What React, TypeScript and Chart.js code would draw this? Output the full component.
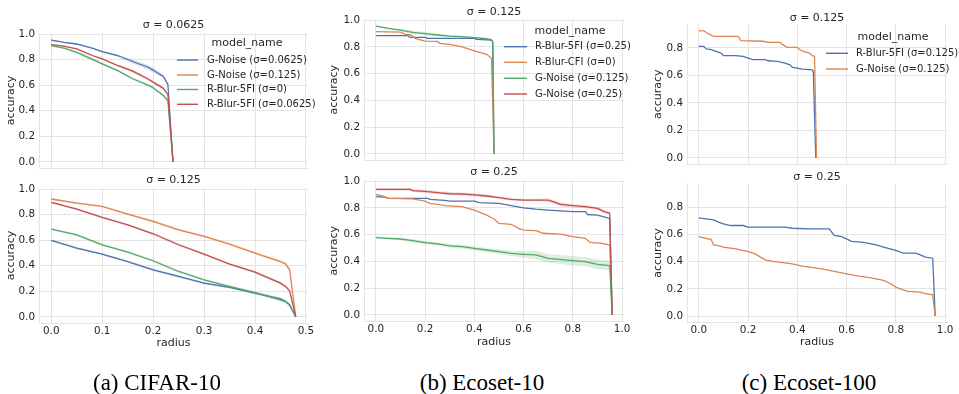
import React, { useEffect, useRef } from 'react';
import { Chart, registerables } from 'chart.js';
Chart.register(...registerables);

const FONT = '"DejaVu Sans", sans-serif';
const TEXT = '#262626';
const GRID = '#e4e4e4';
const BLUE = '#4c72b0';
const ORANGE = '#dd8452';
const GREEN = '#55a868';
const RED = '#c44e52';

// ---- tick labels ----
const yTicksFull = [0, 0.2, 0.4, 0.6, 0.8, 1.0];
const yTicksC = [0, 0.2, 0.4, 0.6, 0.8];
const xTicksA = [0, 0.1, 0.2, 0.3, 0.4, 0.5];
const xTicksBC = [0, 0.2, 0.4, 0.6, 0.8, 1.0];

// ---- texts ----
const legendA = ['G-Noise (σ=0.0625)', 'G-Noise (σ=0.125)', 'R-Blur-5FI (σ=0)', 'R-Blur-5FI (σ=0.0625)'];
const legendB = ['R-Blur-5FI (σ=0.25)', 'R-Blur-CFI (σ=0)', 'G-Noise (σ=0.125)', 'G-Noise (σ=0.25)'];
const legendC = ['R-Blur-5FI (σ=0.125)', 'G-Noise (σ=0.125)'];
const panelTitles = ['σ = 0.0625', 'σ = 0.125', 'σ = 0.125', 'σ = 0.25', 'σ = 0.125', 'σ = 0.25'];
const captions = ['(a) CIFAR-10', '(b) Ecoset-10', '(c) Ecoset-100'];

// ---- (a) CIFAR-10, σ = 0.0625 ----
const a1Radius = [0, 0.025, 0.05, 0.082, 0.1, 0.13, 0.16, 0.19, 0.2, 0.22, 0.229, 0.239];
const a1Blue = [0.953, 0.935, 0.922, 0.887, 0.862, 0.832, 0.785, 0.74, 0.718, 0.668, 0.606, 0];
const a1BlueBand = [0.006, 0.006, 0.006, 0.006, 0.008, 0.01, 0.016, 0.02, 0.018, 0.012, 0.008, 0];
const a1Green = [0.909, 0.89, 0.857, 0.8, 0.767, 0.715, 0.65, 0.6, 0.58, 0.52, 0.477, 0];
const a1GreenBand = [0.006, 0.008, 0.01, 0.012, 0.01, 0.008, 0.008, 0.01, 0.012, 0.012, 0.01, 0];
const a1Red = [0.917, 0.905, 0.883, 0.83, 0.806, 0.754, 0.71, 0.648, 0.624, 0.575, 0.526, 0];
const a1RedBand = [0.005, 0.006, 0.006, 0.008, 0.008, 0.01, 0.012, 0.012, 0.01, 0.01, 0.008, 0];

// ---- (a) CIFAR-10, σ = 0.125 ----
const a2Radius = [0, 0.05, 0.1, 0.15, 0.2, 0.25, 0.3, 0.35, 0.4, 0.45, 0.46, 0.468, 0.48];
const a2Blue = [0.598, 0.538, 0.49, 0.433, 0.368, 0.316, 0.264, 0.23, 0.185, 0.141, 0.12, 0.092, 0];
const a2Orange = [0.922, 0.89, 0.864, 0.804, 0.747, 0.681, 0.63, 0.569, 0.499, 0.433, 0.415, 0.368, 0];
const a2Green = [0.687, 0.642, 0.564, 0.507, 0.439, 0.355, 0.29, 0.238, 0.19, 0.133, 0.12, 0.096, 0];
const a2Red = [0.896, 0.843, 0.778, 0.72, 0.65, 0.564, 0.49, 0.413, 0.35, 0.264, 0.238, 0.204, 0];
const a2Band = [0.008, 0.008, 0.008, 0.008, 0.01, 0.01, 0.008, 0.008, 0.01, 0.012, 0.012, 0.01, 0];

// ---- (b) Ecoset-10, σ = 0.125 ----
const b1BlueX = [0, 0.13, 0.14, 0.2, 0.21, 0.4, 0.41, 0.47, 0.475, 0.48];
const b1BlueY = [0.883, 0.883, 0.87, 0.87, 0.863, 0.863, 0.855, 0.85, 0.83, 0];
const b1OrangeX = [0, 0.1, 0.12, 0.14, 0.16, 0.2, 0.25, 0.26, 0.3, 0.35, 0.4, 0.45, 0.47, 0.48];
const b1OrangeY = [0.913, 0.91, 0.893, 0.89, 0.863, 0.843, 0.84, 0.826, 0.818, 0.8, 0.77, 0.744, 0.714, 0];
const b1GreenX = [0, 0.05, 0.1, 0.15, 0.2, 0.25, 0.3, 0.35, 0.4, 0.45, 0.47, 0.475, 0.48];
const b1GreenY = [0.955, 0.938, 0.925, 0.908, 0.898, 0.888, 0.88, 0.876, 0.868, 0.86, 0.852, 0.84, 0];
const b1GreenBand = [0.005, 0.006, 0.008, 0.012, 0.012, 0.01, 0.008, 0.006, 0.006, 0.006, 0.006, 0.006, 0];

// ---- (b) Ecoset-10, σ = 0.25 ----
const b2BlueX = [0, 0.04, 0.05, 0.21, 0.22, 0.28, 0.3, 0.4, 0.42, 0.5, 0.55, 0.6, 0.65, 0.7, 0.8, 0.85, 0.86, 0.9, 0.95, 0.96];
const b2BlueY = [0.883, 0.88, 0.87, 0.87, 0.863, 0.855, 0.85, 0.85, 0.838, 0.833, 0.816, 0.8, 0.79, 0.783, 0.771, 0.771, 0.75, 0.746, 0.721, 0];
const b2OrangeX = [0, 0.03, 0.05, 0.15, 0.2, 0.22, 0.25, 0.28, 0.35, 0.4, 0.45, 0.48, 0.5, 0.55, 0.58, 0.6, 0.65, 0.68, 0.75, 0.8, 0.85, 0.87, 0.92, 0.95, 0.96];
const b2OrangeY = [0.9, 0.888, 0.87, 0.866, 0.85, 0.833, 0.826, 0.816, 0.808, 0.783, 0.746, 0.716, 0.684, 0.677, 0.647, 0.634, 0.63, 0.61, 0.604, 0.585, 0.572, 0.542, 0.535, 0.522, 0];
const b2GreenX = [0, 0.05, 0.1, 0.15, 0.2, 0.25, 0.3, 0.35, 0.4, 0.45, 0.5, 0.55, 0.6, 0.65, 0.7, 0.8, 0.85, 0.9, 0.95, 0.96];
const b2GreenY = [0.577, 0.572, 0.567, 0.555, 0.54, 0.53, 0.515, 0.51, 0.497, 0.485, 0.473, 0.46, 0.453, 0.448, 0.423, 0.405, 0.398, 0.378, 0.368, 0];
const b2GreenBand = [0.008, 0.008, 0.01, 0.012, 0.012, 0.012, 0.014, 0.015, 0.015, 0.015, 0.018, 0.02, 0.025, 0.03, 0.032, 0.035, 0.035, 0.036, 0.036, 0];
const b2RedX = [0, 0.14, 0.15, 0.2, 0.25, 0.3, 0.35, 0.4, 0.45, 0.5, 0.55, 0.6, 0.7, 0.72, 0.75, 0.8, 0.85, 0.9, 0.93, 0.95, 0.96];
const b2RedY = [0.938, 0.938, 0.928, 0.922, 0.913, 0.905, 0.903, 0.896, 0.888, 0.876, 0.863, 0.858, 0.858, 0.846, 0.826, 0.816, 0.808, 0.796, 0.77, 0.759, 0];
const b2RedBand = [0.01, 0.01, 0.01, 0.012, 0.012, 0.012, 0.012, 0.012, 0.012, 0.01, 0.01, 0.01, 0.012, 0.014, 0.014, 0.012, 0.012, 0.012, 0.012, 0.012, 0];

// ---- (c) Ecoset-100, σ = 0.125 ----
const c1BlueX = [0, 0.02, 0.03, 0.05, 0.07, 0.09, 0.1, 0.15, 0.18, 0.2, 0.22, 0.27, 0.28, 0.32, 0.35, 0.37, 0.38, 0.4, 0.42, 0.46, 0.465, 0.475];
const c1BlueY = [0.812, 0.812, 0.793, 0.788, 0.776, 0.763, 0.744, 0.744, 0.739, 0.727, 0.715, 0.715, 0.707, 0.702, 0.69, 0.678, 0.659, 0.654, 0.646, 0.641, 0.629, 0];
const c1OrangeX = [0, 0.02, 0.04, 0.06, 0.16, 0.17, 0.26, 0.28, 0.33, 0.34, 0.36, 0.4, 0.41, 0.43, 0.45, 0.46, 0.47, 0.478];
const c1OrangeY = [0.927, 0.925, 0.902, 0.885, 0.885, 0.854, 0.849, 0.841, 0.841, 0.824, 0.805, 0.805, 0.788, 0.771, 0.763, 0.744, 0.74, 0];

// ---- (c) Ecoset-100, σ = 0.25 ----
const c2BlueX = [0, 0.03, 0.06, 0.08, 0.1, 0.13, 0.18, 0.2, 0.35, 0.38, 0.45, 0.53, 0.55, 0.58, 0.6, 0.62, 0.66, 0.68, 0.72, 0.75, 0.8, 0.83, 0.88, 0.9, 0.92, 0.95, 0.96];
const c2BlueY = [0.721, 0.714, 0.707, 0.69, 0.677, 0.665, 0.665, 0.653, 0.653, 0.645, 0.64, 0.64, 0.592, 0.584, 0.567, 0.548, 0.543, 0.538, 0.523, 0.506, 0.482, 0.462, 0.462, 0.45, 0.433, 0.425, 0];
const c2OrangeX = [0, 0.05, 0.06, 0.08, 0.1, 0.15, 0.2, 0.23, 0.25, 0.27, 0.3, 0.35, 0.38, 0.42, 0.45, 0.5, 0.55, 0.6, 0.65, 0.7, 0.75, 0.78, 0.8, 0.83, 0.85, 0.9, 0.92, 0.95, 0.96];
const c2OrangeY = [0.584, 0.562, 0.523, 0.518, 0.506, 0.494, 0.474, 0.457, 0.433, 0.413, 0.401, 0.391, 0.384, 0.367, 0.359, 0.347, 0.328, 0.31, 0.293, 0.281, 0.262, 0.237, 0.213, 0.193, 0.181, 0.176, 0.164, 0.156, 0];

type Series = { x: number[]; y: number[]; color: string; band?: number[] };
type Legend = { titleX: number; titleY: number; lineX0: number; lineX1: number; textX: number; rows: number[]; labels: string[]; colors: string[] };
type Panel = {
  canvas: [number, number, number, number];
  plot: [number, number, number, number];
  xRange: [number, number];
  yRange: [number, number];
  xTicks: number[];
  yTicks: number[];
  showX: boolean;
  title: string;
  titleY: number;
  yTitleX: number;
  radiusY?: number;
  legend?: Legend;
  series: Series[];
};

const panels: Panel[] = [
  {
    canvas: [0, 0, 320, 172], plot: [39, 33, 308, 168], xRange: [-0.024, 0.504], yRange: [-0.048, 1.008],
    xTicks: xTicksA, yTicks: yTicksFull, showX: false, title: panelTitles[0], titleY: 25, yTitleX: 11,
    legend: { titleX: 247, titleY: 43, lineX0: 177, lineX1: 198, textX: 207, rows: [60, 75, 89.5, 104.3], labels: legendA, colors: [BLUE, ORANGE, GREEN, RED] },
    series: [
      { x: a1Radius, y: a1Blue, color: BLUE, band: a1BlueBand },
      { x: a1Radius, y: a1Green, color: GREEN, band: a1GreenBand },
      { x: a1Radius, y: a1Red, color: RED, band: a1RedBand },
    ],
  },
  {
    canvas: [0, 162, 320, 193], plot: [39, 188, 308, 323], xRange: [-0.024, 0.504], yRange: [-0.048, 1.008],
    xTicks: xTicksA, yTicks: yTicksFull, showX: true, title: panelTitles[1], titleY: 180, yTitleX: 11, radiusY: 343,
    series: [
      { x: a2Radius, y: a2Blue, color: BLUE, band: a2Band },
      { x: a2Radius, y: a2Orange, color: ORANGE, band: a2Band },
      { x: a2Radius, y: a2Green, color: GREEN, band: a2Band },
      { x: a2Radius, y: a2Red, color: RED, band: a2Band },
    ],
  },
  {
    canvas: [320, 0, 320, 172], plot: [364, 19.2, 624, 160.4], xRange: [-0.048, 1.008], yRange: [-0.048, 1.006],
    xTicks: xTicksBC, yTicks: yTicksFull, showX: false, title: panelTitles[2], titleY: 11.7, yTitleX: 334,
    legend: { titleX: 570, titleY: 30.7, lineX0: 504, lineX1: 527, textX: 535, rows: [46.7, 62.3, 78.3, 94], labels: legendB, colors: [BLUE, ORANGE, GREEN, RED] },
    series: [
      { x: b1BlueX, y: b1BlueY, color: BLUE },
      { x: b1OrangeX, y: b1OrangeY, color: ORANGE },
      { x: b1GreenX, y: b1GreenY, color: GREEN, band: b1GreenBand },
    ],
  },
  {
    canvas: [320, 162, 320, 193], plot: [364, 180.2, 624, 321.4], xRange: [-0.048, 1.008], yRange: [-0.048, 1.006],
    xTicks: xTicksBC, yTicks: yTicksFull, showX: true, title: panelTitles[3], titleY: 172.3, yTitleX: 334, radiusY: 342,
    series: [
      { x: b2BlueX, y: b2BlueY, color: BLUE },
      { x: b2OrangeX, y: b2OrangeY, color: ORANGE },
      { x: b2GreenX, y: b2GreenY, color: GREEN, band: b2GreenBand },
      { x: b2RedX, y: b2RedY, color: RED, band: b2RedBand },
    ],
  },
  {
    canvas: [640, 0, 319, 172], plot: [687, 24.2, 947, 164.3], xRange: [-0.048, 1.008], yRange: [-0.046, 0.973],
    xTicks: xTicksBC, yTicks: yTicksC, showX: false, title: panelTitles[4], titleY: 18.3, yTitleX: 658,
    legend: { titleX: 893, titleY: 36.7, lineX0: 826, lineX1: 848, textX: 856, rows: [53.3, 69], labels: legendC, colors: [BLUE, ORANGE] },
    series: [
      { x: c1BlueX, y: c1BlueY, color: BLUE },
      { x: c1OrangeX, y: c1OrangeY, color: ORANGE },
    ],
  },
  {
    canvas: [640, 162, 319, 193], plot: [687, 183.6, 947, 322.3], xRange: [-0.048, 1.008], yRange: [-0.046, 0.973],
    xTicks: xTicksBC, yTicks: yTicksC, showX: true, title: panelTitles[5], titleY: 176.7, yTitleX: 658, radiusY: 342,
    series: [
      { x: c2BlueX, y: c2BlueY, color: BLUE },
      { x: c2OrangeX, y: c2OrangeY, color: ORANGE },
    ],
  },
];

function hexA(hex: string, a: number) {
  const n = parseInt(hex.slice(1), 16);
  return `rgba(${(n >> 16) & 255},${(n >> 8) & 255},${n & 255},${a})`;
}

function PanelChart({ p }: { p: Panel }) {
  const ref = useRef<HTMLCanvasElement>(null);
  useEffect(() => {
    if (!ref.current) return;
    const [cl, ct, cw, ch] = p.canvas;
    const [x0, y0, x1, y1] = p.plot;
    const TICK = 10.4;
    const LAB = 11;
    const half = (LAB * 1.2) / 2;
    const padL = p.yTitleX - half - cl;
    const yW = x0 - cl - padL;
    const padT = y0 - ct;
    const padR = cl + cw - x1;
    let padB = 0;
    let xH = ct + ch - y1;
    if (p.showX && p.radiusY !== undefined) {
      const sb = p.radiusY + half;
      padB = ct + ch - sb;
      xH = sb - y1;
    }
    const n = p.series.length;
    const datasets: any[] = [];
    p.series.forEach((s, i) => {
      if (s.band) {
        const up = s.x.map((xv, k) => ({ x: xv, y: s.y[k] + s.band![k] }));
        const lo = s.x.map((xv, k) => ({ x: xv, y: s.y[k] - s.band![k] }));
        datasets.push({ data: up, borderWidth: 0, pointRadius: 0, fill: false, order: 100 + i, borderColor: 'rgba(0,0,0,0)' });
        datasets.push({ data: lo, borderWidth: 0, pointRadius: 0, fill: '-1', order: 100 + i, borderColor: 'rgba(0,0,0,0)', backgroundColor: hexA(s.color, 0.2) });
      }
    });
    p.series.forEach((s, i) => {
      datasets.push({
        data: s.x.map((xv, k) => ({ x: xv, y: s.y[k] })),
        borderColor: s.color, borderWidth: 1.3, pointRadius: 0, fill: false, tension: 0, order: n - i,
      });
    });
    const overlay = {
      id: 'overlay',
      afterDraw(chart: any) {
        const ctx = chart.ctx as CanvasRenderingContext2D;
        const ca = chart.chartArea;
        ctx.save();
        ctx.fillStyle = TEXT;
        ctx.textBaseline = 'middle';
        ctx.textAlign = 'center';
        ctx.font = `${LAB}px ${FONT}`;
        ctx.fillText(p.title, (ca.left + ca.right) / 2, p.titleY - ct);
        const lg = p.legend;
        if (lg) {
          ctx.font = `${LAB}px ${FONT}`;
          ctx.fillText('model_name', lg.titleX - cl, lg.titleY - ct);
          ctx.textAlign = 'left';
          ctx.font = `10px ${FONT}`;
          lg.labels.forEach((lab, k) => {
            const yy = lg.rows[k] - ct;
            ctx.strokeStyle = lg.colors[k];
            ctx.lineWidth = 1.4;
            ctx.beginPath();
            ctx.moveTo(lg.lineX0 - cl, yy);
            ctx.lineTo(lg.lineX1 - cl, yy);
            ctx.stroke();
            ctx.fillText(lab, lg.textX - cl, yy);
          });
        }
        ctx.restore();
      },
    };
    const chart = new Chart(ref.current, {
      type: 'line',
      data: { datasets },
      options: {
        animation: false,
        responsive: false,
        maintainAspectRatio: false,
        layout: { padding: { left: padL, top: padT, right: padR, bottom: padB } },
        plugins: { legend: { display: false }, tooltip: { enabled: false }, title: { display: false } },
        scales: {
          x: {
            type: 'linear', min: p.xRange[0], max: p.xRange[1],
            afterBuildTicks: (s: any) => { s.ticks = p.xTicks.map((v) => ({ value: v })); },
            afterFit: (s: any) => { s.height = xH; s.paddingLeft = 0; s.paddingRight = 0; },
            grid: { color: GRID, drawTicks: false, lineWidth: 1 },
            border: { color: GRID, width: 1 },
            ticks: { display: p.showX, padding: 2, color: TEXT, font: { family: FONT, size: TICK }, callback: (v: any) => Number(v).toFixed(1) },
            title: { display: p.showX, text: 'radius', color: TEXT, font: { family: FONT, size: LAB }, padding: 0 },
          },
          y: {
            type: 'linear', min: p.yRange[0], max: p.yRange[1],
            afterBuildTicks: (s: any) => { s.ticks = p.yTicks.map((v) => ({ value: v })); },
            afterFit: (s: any) => { s.width = yW; s.paddingTop = 0; s.paddingBottom = 0; },
            grid: { color: GRID, drawTicks: false, lineWidth: 1 },
            border: { color: GRID, width: 1 },
            ticks: { padding: 4, color: TEXT, font: { family: FONT, size: TICK }, callback: (v: any) => Number(v).toFixed(1) },
            title: { display: true, text: 'accuracy', color: TEXT, font: { family: FONT, size: LAB }, padding: 0 },
          },
        },
      } as any,
      plugins: [overlay],
    });
    return () => chart.destroy();
  }, [p]);
  const [cl, ct, cw, ch] = p.canvas;
  return (
    <canvas
      ref={ref}
      width={cw}
      height={ch}
      style={{ position: 'absolute', left: cl, top: ct, width: cw, height: ch }}
    />
  );
}

const captionX = [157, 482, 809];

export default function App() {
  return (
    <div style={{ position: 'absolute', left: 0, top: 0, width: 959, height: 394, background: '#fff', overflow: 'hidden' }}>
      {panels.map((p, i) => (
        <PanelChart key={i} p={p} />
      ))}
      {captions.map((c, i) => (
        <div
          key={c}
          style={{
            position: 'absolute', left: captionX[i] - 120, width: 240, top: 370, height: 26, lineHeight: '26px',
            textAlign: 'center', fontFamily: '"Liberation Serif", serif', fontSize: 23, color: '#000', whiteSpace: 'nowrap',
          }}
        >
          {c}
        </div>
      ))}
    </div>
  );
}
